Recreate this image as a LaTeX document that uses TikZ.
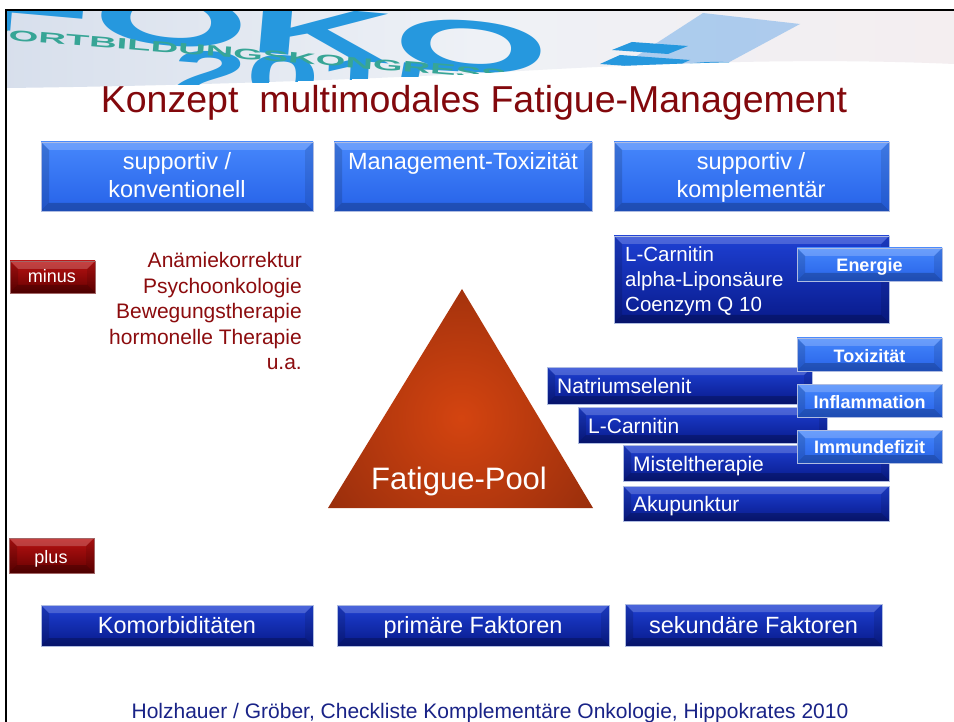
\documentclass[tikz,border=0pt]{standalone}
\usepackage{fontspec}
\setmainfont{Liberation Sans}
\usetikzlibrary{calc}

\definecolor{titlered}{RGB}{130,8,12}
\definecolor{listred}{RGB}{140,12,14}
\definecolor{footblue}{RGB}{25,35,135}
\definecolor{lbTop}{RGB}{70,135,252}
\definecolor{lbBot}{RGB}{38,98,232}
\definecolor{dbTop}{RGB}{30,64,212}
\definecolor{dbBot}{RGB}{8,26,138}
\definecolor{rbTop}{RGB}{185,18,18}
\definecolor{rbBot}{RGB}{100,0,0}
\definecolor{boxedge}{RGB}{175,188,225}
\definecolor{bannerL}{RGB}{215,223,236}
\definecolor{bannerM}{RGB}{238,241,246}
\definecolor{bannerR}{RGB}{244,238,240}
\definecolor{fokoblue}{RGB}{38,152,222}
\definecolor{fokoteal}{RGB}{55,165,150}
\definecolor{wedgeblue}{RGB}{150,192,236}
\definecolor{triMid}{RGB}{212,68,16}
\definecolor{triBot}{RGB}{98,26,8}

\newcommand\fsz[1]{\fontsize{#1}{#1}\selectfont}

\begin{document}
\begin{tikzpicture}[x=1pt,y=-1pt,
  bevelled/.style={path picture={
    \coordinate (pa) at (path picture bounding box.north west);
    \coordinate (pb) at (path picture bounding box.north east);
    \coordinate (pc) at (path picture bounding box.south east);
    \coordinate (pd) at (path picture bounding box.south west);
    \fill[white,opacity=0.20] (pa) -- (pb) -- ($(pb)+(-8,8)$) -- ($(pa)+(8,8)$) -- cycle;
    \fill[black,opacity=0.14] (pa) -- ($(pa)+(8,8)$) -- ($(pd)+(8,-8)$) -- (pd) -- cycle;
    \fill[black,opacity=0.10] (pb) -- ($(pb)+(-8,8)$) -- ($(pc)+(-8,-8)$) -- (pc) -- cycle;
    \fill[black,opacity=0.22] (pd) -- ($(pd)+(8,-8)$) -- ($(pc)+(-8,-8)$) -- (pc) -- cycle;
  }},
  boxcore/.style={rectangle, anchor=north west, inner sep=0pt, outer sep=0pt,
    draw=boxedge, line width=0.6pt, bevelled},
  lightbox/.style={boxcore, top color=lbTop, bottom color=lbBot},
  darkbox/.style={boxcore, top color=dbTop, bottom color=dbBot},
  redbox/.style={boxcore, top color=rbTop, bottom color=rbBot, draw=rbBot!60!white},
  wtext/.style={text=white, inner sep=0pt},
  headtext/.style={wtext, anchor=base, font=\fsz{23.5}},
  listtext/.style={wtext, anchor=base west, font=\fsz{21}},
  tagtext/.style={wtext, anchor=base, font=\bfseries\fsz{18}},
  redlist/.style={text=listred, inner sep=0pt, anchor=base east, font=\fsz{21}}
]
\useasboundingbox (0,0) rectangle (954,722);
\fill[white] (0,0) rectangle (954,722);

% ---- banner photograph strip with wavy lower edge ----
\begin{scope}
  \clip (6,10) -- (954,10) -- (954,64) .. controls (820,58) and (680,62) .. (520,71)
        .. controls (380,79) and (180,86) .. (6,88) -- cycle;
  \shade[left color=bannerL, right color=bannerR, middle color=bannerM] (0,0) rectangle (954,95);
  \fill[wedgeblue, opacity=0.75] (612,72) -- (703,13) -- (800,24) -- (722,66) -- cycle;
  \fill[fokoblue] (600,64) -- (620,55) -- (690,60) -- (670,69) -- cycle;
  \fill[fokoblue] (612,50) -- (632,42) -- (688,46) -- (668,54) -- cycle;
  \fill[fokoblue] (660,70) .. controls (690,60) and (730,60) .. (760,66) -- (760,75) -- (660,75) -- cycle;
  \node[text=fokoblue, font=\bfseries\fsz{72}, inner sep=0pt, rotate=-5, xscale=2.79] (foko) at (260,28) {FOKO};
  \node[text=fokoblue, font=\bfseries\fsz{60}, inner sep=0pt, rotate=-3, xscale=2.2] (fokoyear) at (320,79) {2015};
  \node[text=fokoteal, font=\bfseries\fsz{15}, inner sep=0pt, rotate=-4.6, xscale=2.55] (fokosub) at (246,54) {FORTBILDUNGSKONGRESS};
\end{scope}

% ---- slide frame ----
\draw[black, line width=2.5pt] (6,722) -- (6,10) -- (954,10);

% ---- title ----
\node[text=titlered, inner sep=0pt, anchor=base, font=\fsz{37.5}] (title) at (474,113)
  {Konzept\ \ multimodales Fatigue-Management};

% ---- top category boxes ----
\node[lightbox, minimum width=272pt, minimum height=69pt] (konv) at (41,142) {};
\node[lightbox, minimum width=258pt, minimum height=69pt] (tox) at (334,142) {};
\node[lightbox, minimum width=275pt, minimum height=69pt] (kompl) at (614,142) {};
\node[headtext] (konvA) at (177,170) {supportiv /};
\node[headtext] (konvB) at (177,198) {konventionell};
\node[headtext] (toxA) at (463,170) {Management-Toxizität};
\node[headtext] (komplA) at (751,170) {supportiv /};
\node[headtext] (komplB) at (751,198) {komplementär};

% ---- minus / plus markers ----
\node[redbox, minimum width=85pt, minimum height=32pt] (minus) at (10,261) {};
\node[wtext, anchor=base, font=\fsz{18}] (minusT) at (52,283) {minus};
\node[redbox, minimum width=85pt, minimum height=35pt] (plus) at (9,538) {};
\node[wtext, anchor=base, font=\fsz{18}] (plusT) at (51,563) {plus};

% ---- conventional measures ----
\node[redlist] (l1) at (302,268) {Anämiekorrektur};
\node[redlist] (l2) at (302,293.5) {Psychoonkologie};
\node[redlist] (l3) at (302,319) {Bewegungstherapie};
\node[redlist] (l4) at (302,344.5) {hormonelle Therapie};
\node[redlist] (l5) at (302,370) {u.a.};

% ---- fatigue pool triangle ----
\begin{scope}
  \clip (462,289) -- (593,508) -- (328,508) -- cycle;
  \shade[inner color=triMid, outer color=triBot] (461,418) circle (310);
\end{scope}
\node[wtext, anchor=base, font=\fsz{31}] (pool) at (459,489) {Fatigue-Pool};

% ---- complementary: energy ----
\node[darkbox, minimum width=275pt, minimum height=87pt] (carn) at (614,236) {};
\node[listtext, font=\fsz{20.5}] (carnA) at (625,262) {L-Carnitin};
\node[listtext, font=\fsz{20.5}] (carnB) at (625,287) {alpha-Liponsäure};
\node[listtext, font=\fsz{20.5}] (carnC) at (625,312) {Coenzym Q 10};
\node[lightbox, minimum width=145pt, minimum height=33pt] (energie) at (797,248) {};
\node[tagtext] (energieT) at (869.5,272) {Energie};

% ---- complementary: stacked measures ----
\node[darkbox, minimum width=265pt, minimum height=37pt] (natr) at (547,367) {};
\node[darkbox, minimum width=249pt, minimum height=36pt] (lcar) at (578,407) {};
\node[darkbox, minimum width=266pt, minimum height=36pt] (mist) at (623,445) {};
\node[darkbox, minimum width=266pt, minimum height=35pt] (akup) at (623,486) {};
\node[listtext] (natrT) at (557,393) {Natriumselenit};
\node[listtext] (lcarT) at (588,433) {L-Carnitin};
\node[listtext] (mistT) at (633,471) {Misteltherapie};
\node[listtext] (akupT) at (633,511) {Akupunktur};

\node[lightbox, minimum width=145pt, minimum height=33pt] (toxi) at (797,338) {};
\node[tagtext] (toxiT) at (869.5,362.5) {Toxizität};
\node[lightbox, minimum width=145pt, minimum height=33pt] (infl) at (797,384) {};
\node[tagtext] (inflT) at (869.5,408) {Inflammation};
\node[lightbox, minimum width=145pt, minimum height=33pt] (immu) at (797,430) {};
\node[tagtext] (immuT) at (869.5,453) {Immundefizit};

% ---- bottom factor boxes ----
\node[darkbox, minimum width=272pt, minimum height=41pt] (komo) at (41,605) {};
\node[darkbox, minimum width=272pt, minimum height=41pt] (prim) at (337,605) {};
\node[darkbox, minimum width=257pt, minimum height=42pt] (seku) at (625,604) {};
\node[headtext] (komoT) at (177,633.5) {Komorbiditäten};
\node[headtext] (primT) at (473,633.5) {primäre Faktoren};
\node[headtext] (sekuT) at (753.5,633) {sekundäre Faktoren};

% ---- source ----
\node[text=footblue, inner sep=0pt, anchor=base, font=\fsz{21}] (source) at (490,718)
  {Holzhauer / Gröber, Checkliste Komplementäre Onkologie, Hippokrates 2010};
\end{tikzpicture}
\end{document}
